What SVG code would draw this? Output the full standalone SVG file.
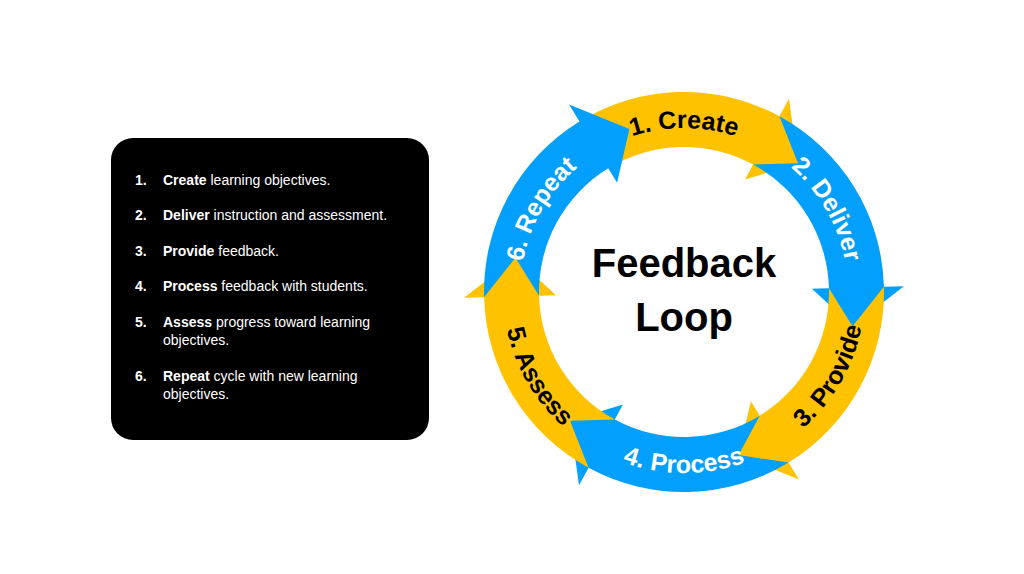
<svg xmlns="http://www.w3.org/2000/svg" width="1024" height="574" viewBox="0 0 1024 574">
<style>
.y{fill:#FFC200}.b{fill:#02A0FC}
.lab{font-family:"Liberation Sans",Arial,sans-serif;font-weight:bold;font-size:25px}
.lt{font-family:"Liberation Sans",Arial,sans-serif;font-size:14px;fill:#fff}
.lt b,.bd{font-weight:bold}
.title{font-family:"Liberation Sans",Arial,sans-serif;font-weight:bold;font-size:40px;fill:#000}
</style>
<defs>
<path id="seg" d="M167.73,-108.92 A200,200 0 0 1 178.2,90.8 L196,99.88 L131.76,110.56 L114.05,58.11 L129.2,65.83 A145,145 0 0 0 121.61,-78.97 L161.63,-58.83 Z"/>
<path id="cw" d="M144.8,-77 A164,164 0 0 1 148.6,69.3"/>
<path id="ccw" d="M164,76.5 A181,181 0 0 0 159.8,-85"/>
</defs>
<rect width="1024" height="574" fill="#fff"/>
<g id="steps-box">
<rect x="111" y="138" width="318" height="302" rx="22" fill="#000"/>
<text class="lt"><tspan x="135" y="185" class="bd">1.</tspan><tspan x="163" class="bd">Create</tspan><tspan> learning objectives.</tspan></text>
<text class="lt"><tspan x="135" y="220" class="bd">2.</tspan><tspan x="163" class="bd">Deliver</tspan><tspan> instruction and assessment.</tspan></text>
<text class="lt"><tspan x="135" y="256" class="bd">3.</tspan><tspan x="163" class="bd">Provide</tspan><tspan> feedback.</tspan></text>
<text class="lt"><tspan x="135" y="291" class="bd">4.</tspan><tspan x="163" class="bd">Process</tspan><tspan> feedback with students.</tspan></text>
<text class="lt"><tspan x="135" y="327" class="bd">5.</tspan><tspan x="163" class="bd">Assess</tspan><tspan> progress toward learning</tspan><tspan x="163" y="345">objectives.</tspan></text>
<text class="lt"><tspan x="135" y="381" class="bd">6.</tspan><tspan x="163" class="bd">Repeat</tspan><tspan> cycle with new learning</tspan><tspan x="163" y="399">objectives.</tspan></text>
</g>
<g id="connectors">
<g id="create" transform="translate(684 292) rotate(-88.5)"><use href="#seg" class="y"/><text class="lab" fill="#000"><textPath href="#cw" startOffset="50%" text-anchor="middle">1. Create</textPath></text></g>
<g id="deliver" transform="translate(684 292) rotate(-28.5)"><use href="#seg" class="b"/><text class="lab" fill="#fff"><textPath href="#cw" startOffset="50%" text-anchor="middle">2. Deliver</textPath></text></g>
<g id="provide" transform="translate(684 292) rotate(31.5)"><use href="#seg" class="y"/><text class="lab" fill="#000"><textPath href="#ccw" startOffset="50%" text-anchor="middle">3. Provide</textPath></text></g>
<g id="process" transform="translate(684 292) rotate(91.5)"><use href="#seg" class="b"/><text class="lab" fill="#fff"><textPath href="#ccw" startOffset="50%" text-anchor="middle">4. Process</textPath></text></g>
<g id="assess" transform="translate(684 292) rotate(151.5)"><use href="#seg" class="y"/><text class="lab" fill="#000"><textPath href="#ccw" startOffset="50%" text-anchor="middle">5. Assess</textPath></text></g>
<g id="repeat" transform="translate(684 292) rotate(211.5)"><use href="#seg" class="b"/><text class="lab" fill="#fff"><textPath href="#cw" startOffset="50%" text-anchor="middle">6. Repeat</textPath></text></g>
</g>
<g id="center">
<text class="title" x="684" y="277" text-anchor="middle">Feedback</text>
<text class="title" x="684" y="331" text-anchor="middle">Loop</text>
</g>
</svg>
